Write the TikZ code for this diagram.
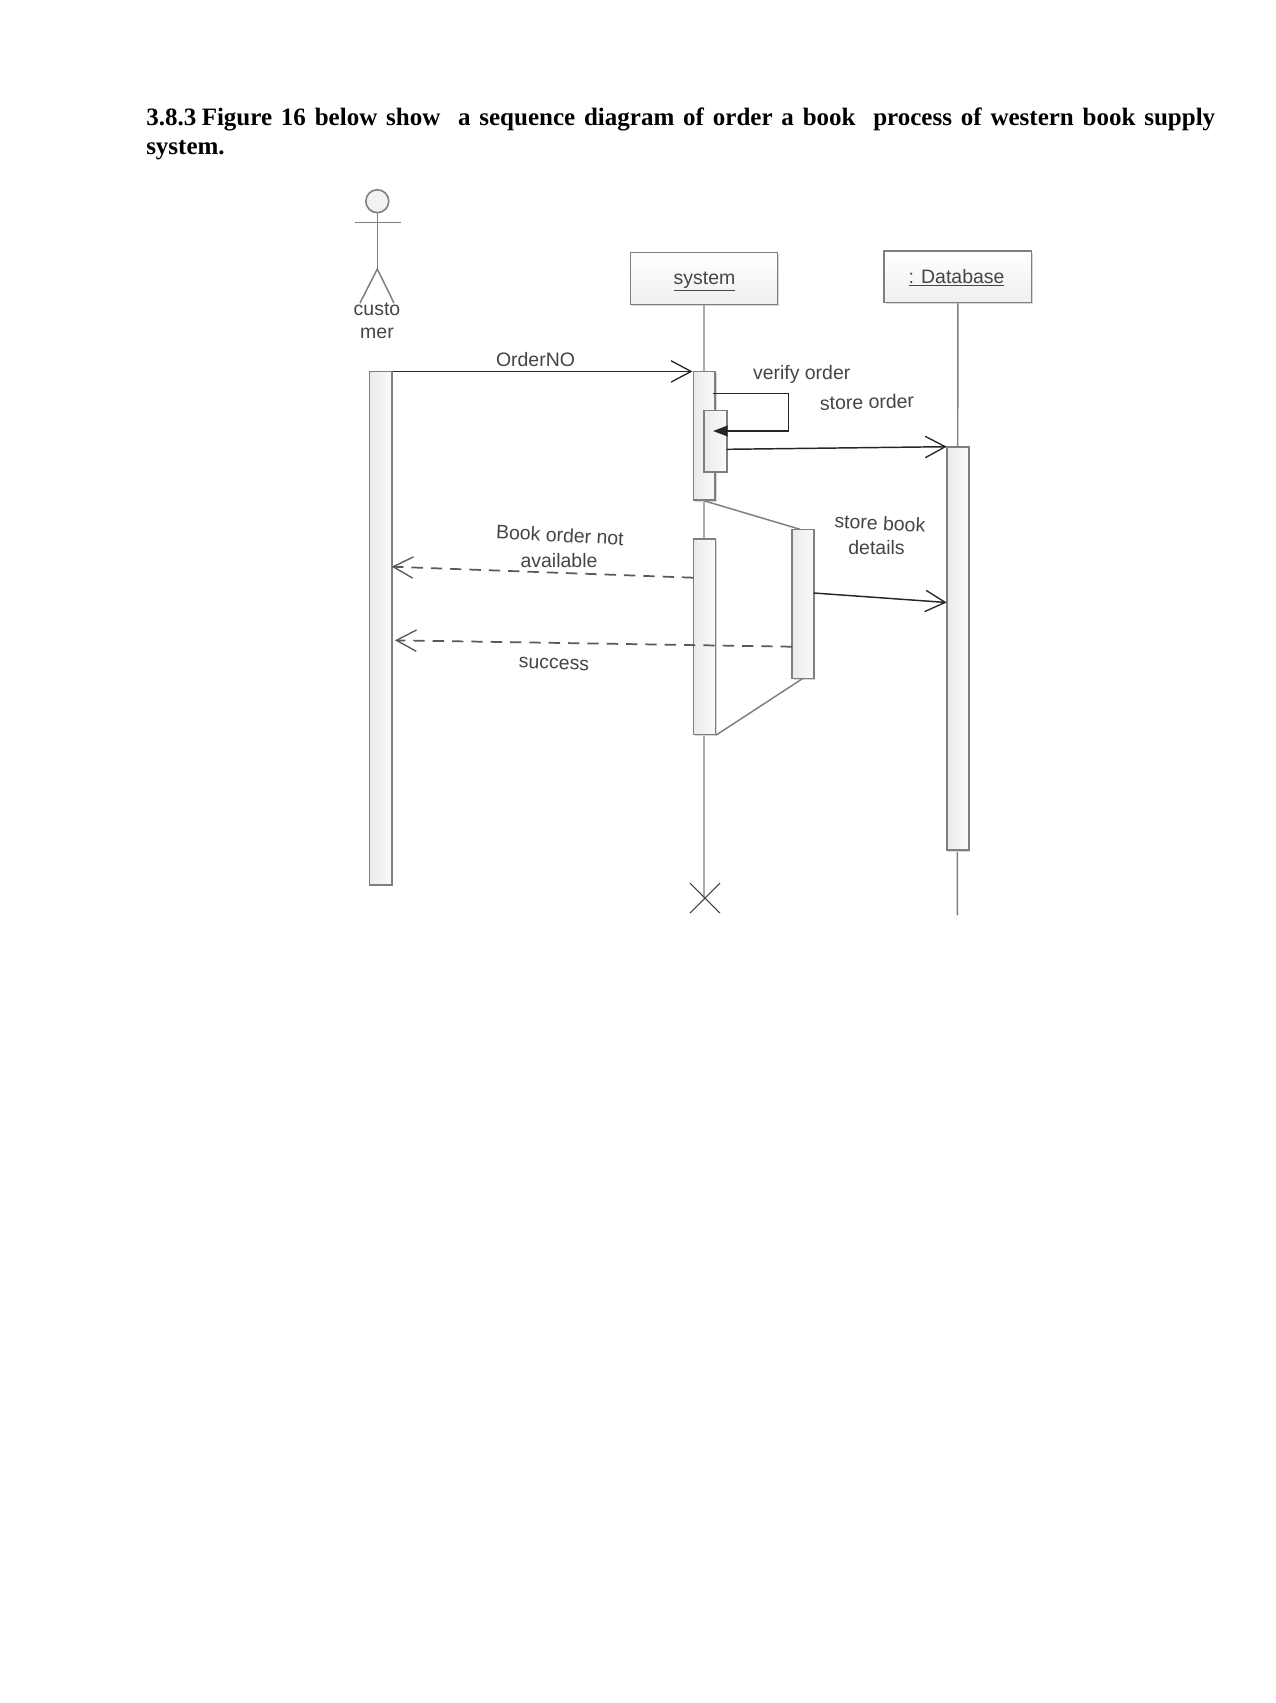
\documentclass[tikz,border=0pt]{standalone}
\usepackage{fontspec}
\setmainfont{Liberation Serif}
\setsansfont{Liberation Sans}
\usetikzlibrary{arrows.meta,fit,shadows}
\definecolor{umlline}{HTML}{7F7F7F}
\definecolor{umltext}{HTML}{454545}
\tikzset{
  umlshadow/.style={general shadow={shadow xshift=1.2pt,shadow yshift=-1.2pt,fill=black!16}},
  objectbox/.style={draw=umlline,line width=1.1pt,inner sep=0pt,top color=white,bottom color=black!6,umlshadow},
  activation/.style={draw=umlline,line width=1.2pt,inner sep=0pt,left color=black!8,right color=black!2,umlshadow},
  lifeline/.style={draw=umlline,line width=1.1pt},
  outline/.style={draw=umlline,line width=1.1pt},
  message/.style={draw=black!85,line width=1.1pt,-{Straight Barb[length=15pt,width=16pt,line width=1pt]}},
  reply/.style={draw=black!65,line width=1.3pt,dash pattern=on 8.5pt off 6pt,-{Straight Barb[length=15pt,width=16pt,line width=1pt]}},
  selfcall/.style={draw=black!85,line width=1.1pt,-{Triangle[length=11pt,width=8pt]}},
  umllabel/.style={text=umltext,inner sep=0pt,font=\sffamily\fontsize{14.6}{17.5}\selectfont,align=center},
  destroy/.style={draw=black!75,line width=.8pt}
}
\begin{document}
\begin{tikzpicture}[x=0.75pt,y=-0.75pt]
\useasboundingbox[fill=white] (0,0) rectangle (1275,1703);

% Section heading
\node[anchor=north west,inner sep=0pt,text width=801.75pt,align=justify,
      font=\bfseries\fontsize{18.75}{21.6}\selectfont] (heading) at (146,108)
  {3.8.3\hspace{.22em}Figure 16 below show \ a sequence diagram of order a book \ process of western book supply\linebreak system.};

% Actor
\node[circle,draw=umlline,line width=1.2pt,fill=black!5,minimum size=17.2pt,inner sep=0pt] (head) at (377.3,201.2) {};
\coordinate (hip) at (377.3,269);
\coordinate (armL) at (355,222.7);
\coordinate (armR) at (401,222.7);
\coordinate (footL) at (360,303);
\coordinate (footR) at (394,303);
\draw[outline] (head) -- (hip);
\draw[outline] (armL) -- (armR);
\draw[outline] (footL) -- (hip) -- (footR);
\node[umllabel] (actorname) at (377,320.5) {custo\\mer};

% Object heads
\node[objectbox,fit={(630.3,252.3) (777.7,304.3)}] (system) {};
\node[umllabel] (systemlabel) at (704.5,281.5) {\underline{system}};
\node[objectbox,fit={(884,251) (1031.7,302.7)}] (database) {};
\node[umllabel] (databaselabel) at (956.5,278) {\underline{: Database}};

% Lifelines
\coordinate (systemend) at (704,898);
\coordinate (databaseend) at (957.3,915);
\draw[lifeline] (system.south) -- (systemend);
\draw[lifeline] (database.south) -- (databaseend);

% Activation bars
\node[activation,fit={(369.3,371.3) (391.7,884.7)}] (custbar) {};
\node[activation,fit={(693.3,371.3) (715,500)}] (sysbar) {};
\node[activation,fit={(704,410.3) (726.7,471.7)}] (nestedbar) {};
\node[activation,fit={(693.3,538.7) (715.3,734.3)}] (sysbarlow) {};
\node[activation,fit={(792,529.3) (813.7,678.3)}] (storebar) {};
\node[activation,fit={(946.7,446.7) (968.7,850)}] (dbbar) {};

% Combined fragment edges between the bars
\coordinate (storetopin) at (800,529.3);
\coordinate (storebotin) at (803,678.3);
\draw[outline] (sysbar.south) -- (storetopin);
\draw[outline] (sysbarlow.south east) -- (storebotin);

% Messages
\draw[message] ([yshift=-.7pt]custbar.north east) -- ([yshift=-.7pt]sysbar.north west);
\coordinate (loopstart) at (713,393.3);
\coordinate (loopa) at (788.7,393.3);
\coordinate (loopb) at (788.7,431);
\coordinate (loopend) at (713,431);
\draw[selfcall] (loopstart) -- (loopa) -- (loopb) -- (loopend);
\coordinate (storeorderstart) at (726.7,449.3);
\coordinate (storeorderend) at (946.7,446.7);
\draw[message] (storeorderstart) -- (storeorderend);
\coordinate (notavailstart) at (693.3,577.7);
\coordinate (notavailend) at (391.7,566.7);
\draw[reply] (notavailstart) -- (notavailend);
\coordinate (successstart) at (792,646.7);
\coordinate (successend) at (395,640.3);
\draw[reply] (successstart) -- (successend);
\coordinate (bookstart) at (813.7,593);
\coordinate (bookend) at (946.7,602.5);
\draw[message] (bookstart) -- (bookend);

% Destruction mark
\coordinate (xa) at (690,883);
\coordinate (xb) at (720,913);
\coordinate (xc) at (720,883);
\coordinate (xd) at (690,913);
\draw[destroy] (xa) -- (xb);
\draw[destroy] (xc) -- (xd);

% Message labels
\node[umllabel] (ordernolabel) at (535.5,360) {OrderNO};
\node[umllabel] (verifylabel) at (801.7,374) {verify order};
\node[umllabel,rotate=1.5] (storeorderlabel) at (867,402) {store order};
\node[umllabel,rotate=-3] (bookorderlabel) at (560,535) {Book order not};
\node[umllabel] (availablelabel) at (559,561) {available};
\node[umllabel,rotate=-2] (successlabel) at (554,664) {success};
\node[umllabel,rotate=-3] (storebooklabel) at (880,523) {store book};
\node[umllabel] (detailslabel) at (876.5,547.5) {details};
\end{tikzpicture}
\end{document}
